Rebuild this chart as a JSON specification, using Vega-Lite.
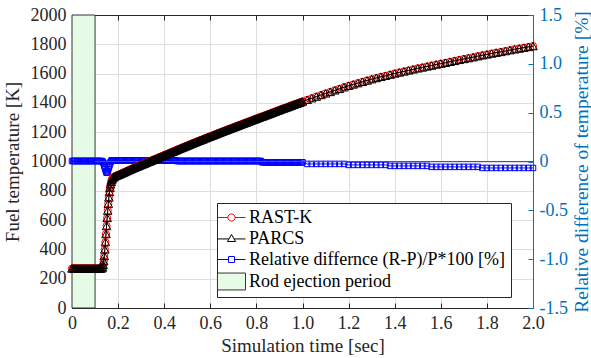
{
"$schema": "https://vega.github.io/schema/vega-lite/v6.json",
"width": 461, "height": 293,
"autosize": "none",
"padding": {"left": 72, "top": 15, "right": 58, "bottom": 50},
"background": "white",
"config": {
 "font": "Liberation Serif",
 "view": {"stroke": null},
 "style": {"guide-label": {"font": "Liberation Serif"}, "guide-title": {"font": "Liberation Serif"}},
 "axis": {"labelFont": "Liberation Serif", "titleFont": "Liberation Serif", "labelFontSize": 18, "titleFontSize": 19, "titleFontWeight": "normal", "labelColor": "#262626", "titleColor": "#262626", "domainColor": "#262626", "tickColor": "#262626", "tickSize": -5, "labelPadding": 11, "labelFlush": false, "labelOverlap": false, "gridColor": "#dedede", "domainWidth": 1, "tickWidth": 1, "gridWidth": 1}
},
"datasets": {
 "rod": [{"start": 0, "end": 0.1}],
 "zero": [{"a": 0, "b": 2, "c": 0.1}],
 "series": [{"series": "RAST-K"}, {"series": "PARCS"}, {"series": "Relative differnce (R-P)/P*100 [%]"}, {"series": "Rod ejection period"}],
 "main": [
{"t":0,"R":270,"P":270,"D":0.005},{"t":0.005,"R":270,"P":270,"D":0.005},{"t":0.01,"R":270,"P":270,"D":0.005},{"t":0.015,"R":270,"P":270,"D":0.005},{"t":0.02,"R":270,"P":270,"D":0.005},{"t":0.025,"R":270,"P":270,"D":0.005},{"t":0.03,"R":270,"P":270,"D":0.005},{"t":0.035,"R":270,"P":270,"D":0.005},{"t":0.04,"R":270,"P":270,"D":0.005},{"t":0.045,"R":270,"P":270,"D":0.005},
{"t":0.05,"R":270,"P":270,"D":0.005},{"t":0.055,"R":270,"P":270,"D":0.005},{"t":0.06,"R":270,"P":270,"D":0.005},{"t":0.065,"R":270,"P":270,"D":0.005},{"t":0.07,"R":270,"P":270,"D":0.005},{"t":0.075,"R":270,"P":270,"D":0.005},{"t":0.08,"R":270,"P":270,"D":0.005},{"t":0.085,"R":270,"P":270,"D":0.005},{"t":0.09,"R":270,"P":270,"D":0.005},{"t":0.095,"R":270,"P":270,"D":0.005},
{"t":0.1,"R":270,"P":270,"D":0.005},{"t":0.105,"R":270,"P":270,"D":0.005},{"t":0.11,"R":270,"P":270,"D":0.005},{"t":0.115,"R":270,"P":270,"D":0.005},{"t":0.12,"R":270,"P":270,"D":0.005},{"t":0.125,"R":270,"P":270,"D":0.005},
{"t":0.13,"R":272,"P":272,"D":0.005},{"t":0.1325,"R":280,"P":280,"D":0},{"t":0.135,"R":295,"P":295,"D":-0.01},{"t":0.1375,"R":320,"P":320,"D":-0.02},{"t":0.14,"R":355,"P":355,"D":-0.04},{"t":0.1425,"R":400,"P":400,"D":-0.06},{"t":0.145,"R":450,"P":450,"D":-0.08},{"t":0.1475,"R":505,"P":505,"D":-0.1},{"t":0.15,"R":560,"P":560,"D":-0.115},{"t":0.1525,"R":615,"P":615,"D":-0.11},
{"t":0.155,"R":665,"P":665,"D":-0.1},{"t":0.1575,"R":712,"P":712,"D":-0.08},{"t":0.16,"R":755,"P":755,"D":-0.06},{"t":0.1625,"R":792,"P":792,"D":-0.04},{"t":0.165,"R":822,"P":822,"D":-0.02},{"t":0.1675,"R":845,"P":845,"D":-0.005},{"t":0.17,"R":862,"P":862,"D":0.005},{"t":0.1725,"R":874,"P":874,"D":0.01},{"t":0.175,"R":883,"P":883,"D":0.012},{"t":0.1775,"R":889,"P":889,"D":0.012},
{"t":0.18,"R":894,"P":894,"D":0.012},{"t":0.185,"R":898,"P":898,"D":0.012},{"t":0.19,"R":902,"P":902,"D":0.012},{"t":0.195,"R":905,"P":905,"D":0.012},{"t":0.2,"R":908,"P":908,"D":0.012},
{"t":0.205,"R":912,"P":912,"D":0.012},{"t":0.21,"R":915,"P":915,"D":0.012},{"t":0.215,"R":919,"P":919,"D":0.012},{"t":0.22,"R":922,"P":922,"D":0.012},{"t":0.225,"R":926,"P":926,"D":0.012},{"t":0.23,"R":929,"P":929,"D":0.012},{"t":0.235,"R":933,"P":933,"D":0.012},{"t":0.24,"R":937,"P":937,"D":0.012},{"t":0.245,"R":940,"P":940,"D":0.012},{"t":0.25,"R":944,"P":944,"D":0.012},
{"t":0.255,"R":947,"P":947,"D":0.012},{"t":0.26,"R":951,"P":951,"D":0.012},{"t":0.265,"R":954,"P":954,"D":0.012},{"t":0.27,"R":957,"P":957,"D":0.012},{"t":0.275,"R":960,"P":960,"D":0.012},{"t":0.28,"R":964,"P":964,"D":0.012},{"t":0.285,"R":967,"P":967,"D":0.012},{"t":0.29,"R":970,"P":970,"D":0.012},{"t":0.295,"R":974,"P":974,"D":0.012},{"t":0.3,"R":977,"P":977,"D":0.012},
{"t":0.305,"R":980,"P":980,"D":0.012},{"t":0.31,"R":984,"P":984,"D":0.012},{"t":0.315,"R":987,"P":987,"D":0.012},{"t":0.32,"R":990,"P":990,"D":0.012},{"t":0.325,"R":994,"P":994,"D":0.012},{"t":0.33,"R":997,"P":997,"D":0.012},{"t":0.335,"R":1000,"P":1000,"D":0.012},{"t":0.34,"R":1003,"P":1003,"D":0.012},{"t":0.345,"R":1007,"P":1007,"D":0.012},{"t":0.35,"R":1010,"P":1010,"D":0.012},
{"t":0.355,"R":1013,"P":1013,"D":0.012},{"t":0.36,"R":1017,"P":1017,"D":0.012},{"t":0.365,"R":1020,"P":1020,"D":0.012},{"t":0.37,"R":1023,"P":1023,"D":0.012},{"t":0.375,"R":1027,"P":1027,"D":0.012},{"t":0.38,"R":1030,"P":1030,"D":0.012},{"t":0.385,"R":1033,"P":1033,"D":0.012},{"t":0.39,"R":1036,"P":1036,"D":0.012},{"t":0.395,"R":1040,"P":1040,"D":0.012},{"t":0.4,"R":1043,"P":1043,"D":0.012},
{"t":0.405,"R":1046,"P":1046,"D":0.012},{"t":0.41,"R":1050,"P":1050,"D":0.012},{"t":0.415,"R":1053,"P":1053,"D":0.012},{"t":0.42,"R":1056,"P":1056,"D":0.012},{"t":0.425,"R":1060,"P":1060,"D":0.012},{"t":0.43,"R":1063,"P":1063,"D":0.012},{"t":0.435,"R":1066,"P":1066,"D":0.012},{"t":0.44,"R":1069,"P":1069,"D":0.012},{"t":0.445,"R":1073,"P":1073,"D":0.012},{"t":0.45,"R":1076,"P":1076,"D":0.012},
{"t":0.455,"R":1079,"P":1079,"D":0.005},{"t":0.46,"R":1083,"P":1083,"D":0.005},{"t":0.465,"R":1086,"P":1086,"D":0.005},{"t":0.47,"R":1089,"P":1089,"D":0.005},{"t":0.475,"R":1093,"P":1093,"D":0.005},{"t":0.48,"R":1096,"P":1096,"D":0.005},{"t":0.485,"R":1099,"P":1099,"D":0.005},{"t":0.49,"R":1102,"P":1102,"D":0.005},{"t":0.495,"R":1106,"P":1106,"D":0.005},{"t":0.5,"R":1109,"P":1109,"D":0.005},
{"t":0.505,"R":1112,"P":1112,"D":0.005},{"t":0.51,"R":1115,"P":1115,"D":0.005},{"t":0.515,"R":1119,"P":1119,"D":0.005},{"t":0.52,"R":1122,"P":1122,"D":0.005},{"t":0.525,"R":1125,"P":1125,"D":0.005},{"t":0.53,"R":1128,"P":1128,"D":0.005},{"t":0.535,"R":1131,"P":1131,"D":0.005},{"t":0.54,"R":1135,"P":1135,"D":0.005},{"t":0.545,"R":1138,"P":1138,"D":0.005},{"t":0.55,"R":1141,"P":1141,"D":0.005},
{"t":0.555,"R":1144,"P":1144,"D":0.005},{"t":0.56,"R":1147,"P":1147,"D":0.005},{"t":0.565,"R":1150,"P":1150,"D":0.005},{"t":0.57,"R":1153,"P":1153,"D":0.005},{"t":0.575,"R":1157,"P":1157,"D":0.005},{"t":0.58,"R":1160,"P":1160,"D":0.005},{"t":0.585,"R":1163,"P":1163,"D":0.005},{"t":0.59,"R":1166,"P":1166,"D":0.005},{"t":0.595,"R":1169,"P":1169,"D":0.005},{"t":0.6,"R":1172,"P":1172,"D":0.005},
{"t":0.605,"R":1175,"P":1175,"D":0.005},{"t":0.61,"R":1178,"P":1178,"D":0.005},{"t":0.615,"R":1181,"P":1181,"D":0.005},{"t":0.62,"R":1184,"P":1184,"D":0.005},{"t":0.625,"R":1188,"P":1188,"D":0.005},{"t":0.63,"R":1191,"P":1191,"D":0.005},{"t":0.635,"R":1194,"P":1194,"D":0.005},{"t":0.64,"R":1197,"P":1197,"D":0.005},{"t":0.645,"R":1200,"P":1200,"D":0.005},{"t":0.65,"R":1203,"P":1203,"D":0.005},
{"t":0.655,"R":1206,"P":1206,"D":0.005},{"t":0.66,"R":1209,"P":1209,"D":0.005},{"t":0.665,"R":1212,"P":1212,"D":0.005},{"t":0.67,"R":1215,"P":1215,"D":0.005},{"t":0.675,"R":1218,"P":1218,"D":0.005},{"t":0.68,"R":1221,"P":1221,"D":0.005},{"t":0.685,"R":1224,"P":1224,"D":0.005},{"t":0.69,"R":1227,"P":1227,"D":0.005},{"t":0.695,"R":1230,"P":1230,"D":0.005},{"t":0.7,"R":1233,"P":1233,"D":0.005},
{"t":0.705,"R":1236,"P":1236,"D":0.005},{"t":0.71,"R":1239,"P":1239,"D":0.005},{"t":0.715,"R":1242,"P":1242,"D":0.005},{"t":0.72,"R":1245,"P":1245,"D":0.005},{"t":0.725,"R":1248,"P":1248,"D":0.005},{"t":0.73,"R":1251,"P":1251,"D":0.005},{"t":0.735,"R":1254,"P":1254,"D":0.005},{"t":0.74,"R":1257,"P":1257,"D":0.005},{"t":0.745,"R":1260,"P":1260,"D":0.005},{"t":0.75,"R":1263,"P":1263,"D":0.005},
{"t":0.755,"R":1266,"P":1266,"D":0.005},{"t":0.76,"R":1269,"P":1269,"D":0.005},{"t":0.765,"R":1272,"P":1272,"D":0.005},{"t":0.77,"R":1275,"P":1275,"D":0.005},{"t":0.775,"R":1278,"P":1278,"D":0.005},{"t":0.78,"R":1281,"P":1281,"D":0.005},{"t":0.785,"R":1284,"P":1284,"D":0.005},{"t":0.79,"R":1287,"P":1287,"D":0.005},{"t":0.795,"R":1290,"P":1290,"D":0.005},{"t":0.8,"R":1293,"P":1293,"D":0.005},
{"t":0.805,"R":1296,"P":1296,"D":0.005},{"t":0.81,"R":1299,"P":1299,"D":0.005},{"t":0.815,"R":1302,"P":1302,"D":0.005},{"t":0.82,"R":1305,"P":1305,"D":0.005},{"t":0.825,"R":1307,"P":1307,"D":-0.008},{"t":0.83,"R":1310,"P":1310,"D":-0.008},{"t":0.835,"R":1313,"P":1313,"D":-0.008},{"t":0.84,"R":1316,"P":1316,"D":-0.008},{"t":0.845,"R":1319,"P":1319,"D":-0.008},{"t":0.85,"R":1322,"P":1322,"D":-0.008},
{"t":0.855,"R":1325,"P":1325,"D":-0.008},{"t":0.86,"R":1328,"P":1328,"D":-0.008},{"t":0.865,"R":1331,"P":1331,"D":-0.008},{"t":0.87,"R":1334,"P":1334,"D":-0.008},{"t":0.875,"R":1337,"P":1337,"D":-0.008},{"t":0.88,"R":1340,"P":1340,"D":-0.008},{"t":0.885,"R":1343,"P":1343,"D":-0.008},{"t":0.89,"R":1346,"P":1346,"D":-0.008},{"t":0.895,"R":1349,"P":1349,"D":-0.008},{"t":0.9,"R":1352,"P":1352,"D":-0.008},
{"t":0.905,"R":1355,"P":1355,"D":-0.008},{"t":0.91,"R":1358,"P":1358,"D":-0.008},{"t":0.915,"R":1361,"P":1361,"D":-0.008},{"t":0.92,"R":1364,"P":1364,"D":-0.008},{"t":0.925,"R":1366,"P":1366,"D":-0.008},{"t":0.93,"R":1369,"P":1369,"D":-0.008},{"t":0.935,"R":1372,"P":1372,"D":-0.008},{"t":0.94,"R":1375,"P":1375,"D":-0.008},{"t":0.945,"R":1378,"P":1378,"D":-0.008},{"t":0.95,"R":1381,"P":1381,"D":-0.008},
{"t":0.955,"R":1384,"P":1384,"D":-0.008},{"t":0.96,"R":1387,"P":1387,"D":-0.008},{"t":0.965,"R":1390,"P":1390,"D":-0.008},{"t":0.97,"R":1393,"P":1393,"D":-0.008},{"t":0.975,"R":1395,"P":1395,"D":-0.008},{"t":0.98,"R":1398,"P":1398,"D":-0.008},{"t":0.985,"R":1401,"P":1401,"D":-0.008},{"t":0.99,"R":1404,"P":1404,"D":-0.008},{"t":0.995,"R":1407,"P":1407,"D":-0.008},{"t":1.0,"R":1410,"P":1410,"D":-0.008},
{"t":1.02,"R":1421,"P":1421,"D":-0.025},{"t":1.04,"R":1432,"P":1432,"D":-0.025},{"t":1.06,"R":1443,"P":1443,"D":-0.025},{"t":1.08,"R":1454,"P":1454,"D":-0.025},{"t":1.1,"R":1465,"P":1465,"D":-0.025},{"t":1.12,"R":1475,"P":1475,"D":-0.025},{"t":1.14,"R":1486,"P":1486,"D":-0.025},{"t":1.16,"R":1496,"P":1496,"D":-0.025},{"t":1.18,"R":1507,"P":1507,"D":-0.025},{"t":1.2,"R":1517,"P":1517,"D":-0.035},
{"t":1.22,"R":1526,"P":1526,"D":-0.035},{"t":1.24,"R":1535,"P":1535,"D":-0.035},{"t":1.26,"R":1544,"P":1544,"D":-0.035},{"t":1.28,"R":1553,"P":1553,"D":-0.035},{"t":1.3,"R":1562,"P":1562,"D":-0.035},{"t":1.32,"R":1570,"P":1570,"D":-0.035},{"t":1.34,"R":1578,"P":1578,"D":-0.035},{"t":1.36,"R":1585,"P":1585,"D":-0.035},{"t":1.38,"R":1593,"P":1593,"D":-0.045},{"t":1.4,"R":1601,"P":1601,"D":-0.045},
{"t":1.42,"R":1608,"P":1608,"D":-0.045},{"t":1.44,"R":1615,"P":1615,"D":-0.045},{"t":1.46,"R":1622,"P":1622,"D":-0.045},{"t":1.48,"R":1629,"P":1629,"D":-0.045},{"t":1.5,"R":1636,"P":1636,"D":-0.045},{"t":1.52,"R":1642,"P":1642,"D":-0.045},{"t":1.54,"R":1649,"P":1649,"D":-0.045},{"t":1.56,"R":1655,"P":1655,"D":-0.055},{"t":1.58,"R":1662,"P":1662,"D":-0.055},{"t":1.6,"R":1668,"P":1668,"D":-0.055},
{"t":1.62,"R":1674,"P":1674,"D":-0.055},{"t":1.64,"R":1681,"P":1681,"D":-0.055},{"t":1.66,"R":1687,"P":1687,"D":-0.055},{"t":1.68,"R":1694,"P":1694,"D":-0.055},{"t":1.7,"R":1700,"P":1700,"D":-0.055},{"t":1.72,"R":1706,"P":1706,"D":-0.055},{"t":1.74,"R":1712,"P":1712,"D":-0.055},{"t":1.76,"R":1719,"P":1719,"D":-0.055},{"t":1.78,"R":1725,"P":1725,"D":-0.066},{"t":1.8,"R":1731,"P":1731,"D":-0.066},
{"t":1.82,"R":1737,"P":1737,"D":-0.066},{"t":1.84,"R":1743,"P":1743,"D":-0.066},{"t":1.86,"R":1748,"P":1748,"D":-0.066},{"t":1.88,"R":1754,"P":1754,"D":-0.066},{"t":1.9,"R":1760,"P":1760,"D":-0.066},{"t":1.92,"R":1766,"P":1766,"D":-0.066},{"t":1.94,"R":1771,"P":1771,"D":-0.066},{"t":1.96,"R":1777,"P":1777,"D":-0.066},{"t":1.98,"R":1782,"P":1782,"D":-0.066},{"t":2.0,"R":1788,"P":1788,"D":-0.066}
 ]
},
"layer": [
 {
  "data": {"name": "rod"},
  "mark": {"type": "rect", "fill": "#e6fbe6", "stroke": "#333333", "strokeWidth": 1},
  "encoding": {
   "x": {"field": "start", "type": "quantitative", "scale": {"domain": [0, 2], "nice": false, "zero": false}, "axis": null},
   "x2": {"field": "end"}
  }
 },
 {
  "data": {"name": "main"},
  "mark": {"type": "line", "stroke": "#0000ff", "strokeWidth": 1},
  "encoding": {
   "x": {"field": "t", "type": "quantitative", "scale": {"domain": [0, 2], "nice": false, "zero": false}, "axis": null},
   "y": {"field": "D", "type": "quantitative", "scale": {"domain": [-1.5, 1.5], "nice": false, "zero": false}, "axis": null}
  }
 },
 {
  "data": {"name": "main"},
  "mark": {"type": "point", "shape": "square", "size": 30, "filled": false, "stroke": "#0000ff", "strokeWidth": 1, "opacity": 1},
  "encoding": {
   "x": {"field": "t", "type": "quantitative", "scale": {"domain": [0, 2], "nice": false, "zero": false}, "axis": null},
   "y": {"field": "D", "type": "quantitative", "scale": {"domain": [-1.5, 1.5], "nice": false, "zero": false},
    "axis": {"orient": "right", "values": [-1.5, -1, -0.5, 0, 0.5, 1, 1.5], "labelExpr": "datum.value == 0 ? '0' : (datum.value < 0 ? '-' : '') + format(abs(datum.value), '.1f')", "grid": false, "labelFont": "Liberation Serif", "titleFont": "Liberation Serif", "labelFontSize": 18, "titleFontSize": 19.5, "domainColor": "#0072BD", "tickColor": "#0072BD", "labelColor": "#0072BD", "titleColor": "#0072BD", "title": "Relative difference of temperature [%]", "titleAngle": 270, "titleBaseline": "top", "titlePadding": 5}}
  }
 },
 {
  "data": {"name": "zero"},
  "mark": {"type": "rule", "stroke": "#0072BD", "strokeWidth": 1},
  "encoding": {
   "x": {"field": "a", "type": "quantitative", "scale": {"domain": [0, 2], "nice": false, "zero": false}, "axis": null},
   "x2": {"field": "b"},
   "y": {"datum": 0, "type": "quantitative", "scale": {"domain": [-1.5, 1.5], "nice": false, "zero": false}, "axis": null}
  }
 },
 {
  "data": {"name": "zero"},
  "mark": {"type": "rule", "stroke": "#1a1a1a", "strokeWidth": 1},
  "encoding": {
   "x": {"field": "a", "type": "quantitative", "scale": {"domain": [0, 2], "nice": false, "zero": false}, "axis": null},
   "x2": {"field": "c"},
   "y": {"datum": 0, "type": "quantitative", "scale": {"domain": [-1.5, 1.5], "nice": false, "zero": false}, "axis": null}
  }
 },
 {
  "data": {"name": "main"},
  "mark": {"type": "line", "stroke": "#ff0000", "strokeWidth": 1},
  "encoding": {
   "x": {"field": "t", "type": "quantitative", "scale": {"domain": [0, 2], "nice": false, "zero": false}, "axis": null},
   "y": {"field": "R", "type": "quantitative", "scale": {"domain": [0, 2000], "nice": false, "zero": false}, "axis": null}
  }
 },
 {
  "data": {"name": "main"},
  "mark": {"type": "point", "shape": "circle", "size": 52, "filled": false, "stroke": "#ff0000", "strokeWidth": 1, "opacity": 1},
  "encoding": {
   "x": {"field": "t", "type": "quantitative", "scale": {"domain": [0, 2], "nice": false, "zero": false},
    "axis": {"orient": "bottom", "values": [0, 0.2, 0.4, 0.6, 0.8, 1, 1.2, 1.4, 1.6, 1.8, 2], "labelExpr": "datum.value == 0 ? '0' : format(datum.value, '.1f')", "labelFont": "Liberation Serif", "titleFont": "Liberation Serif", "labelFontSize": 18, "titleFontSize": 19, "grid": true, "title": "Simulation time [sec]", "titlePadding": 4}},
   "y": {"field": "R", "type": "quantitative", "scale": {"domain": [0, 2000], "nice": false, "zero": false},
    "axis": {"orient": "left", "values": [0, 200, 400, 600, 800, 1000, 1200, 1400, 1600, 1800, 2000], "format": "d", "labelFont": "Liberation Serif", "titleFont": "Liberation Serif", "labelFontSize": 18, "titleFontSize": 19, "grid": true, "title": "Fuel temperature [K]", "titlePadding": 8}}
  }
 },
 {
  "data": {"name": "main"},
  "mark": {"type": "line", "stroke": "#000000", "strokeWidth": 1},
  "encoding": {
   "x": {"field": "t", "type": "quantitative", "scale": {"domain": [0, 2], "nice": false, "zero": false},
    "axis": {"orient": "top", "values": [0, 0.2, 0.4, 0.6, 0.8, 1, 1.2, 1.4, 1.6, 1.8, 2], "labels": false, "grid": false, "title": null}},
   "y": {"field": "P", "type": "quantitative", "scale": {"domain": [0, 2000], "nice": false, "zero": false}, "axis": null}
  }
 },
 {
  "data": {"name": "main"},
  "mark": {"type": "point", "shape": "triangle-up", "size": 74, "filled": false, "stroke": "#000000", "strokeWidth": 1, "opacity": 1},
  "encoding": {
   "x": {"field": "t", "type": "quantitative", "scale": {"domain": [0, 2], "nice": false, "zero": false}, "axis": null},
   "y": {"field": "P", "type": "quantitative", "scale": {"domain": [0, 2000], "nice": false, "zero": false}, "axis": null}
  }
 },
 {
  "data": {"name": "series"},
  "transform": [{"filter": "datum.series == 'none'"}],
  "mark": {"type": "point", "opacity": 1},
  "encoding": {
   "stroke": {"field": "series", "type": "nominal",
    "scale": {"domain": ["RAST-K", "PARCS", "Relative differnce (R-P)/P*100 [%]", "Rod ejection period"], "range": ["#ff0000", "#000000", "#0000ff", "#333333"]},
    "legend": {"title": null, "orient": "none", "legendX": 145, "legendY": 188, "labelFont": "Liberation Serif", "labelFontSize": 18, "labelColor": "#000000", "symbolSize": 324, "symbolStrokeWidth": 1, "symbolOpacity": 1, "strokeColor": "#262626", "fillColor": "#ffffff", "padding": 5, "rowPadding": 2, "labelOffset": 8, "labelLimit": 500}},
   "fill": {"field": "series", "type": "nominal",
    "scale": {"domain": ["RAST-K", "PARCS", "Relative differnce (R-P)/P*100 [%]", "Rod ejection period"], "range": ["transparent", "transparent", "transparent", "#e6fbe6"]},
    "legend": {"title": null, "orient": "none", "legendX": 145, "legendY": 188, "labelFont": "Liberation Serif", "labelFontSize": 18, "labelColor": "#000000", "symbolSize": 324, "symbolStrokeWidth": 1, "symbolOpacity": 1, "strokeColor": "#262626", "fillColor": "#ffffff", "padding": 5, "rowPadding": 2, "labelOffset": 8, "labelLimit": 500}},
   "shape": {"field": "series", "type": "nominal",
    "scale": {"domain": ["RAST-K", "PARCS", "Relative differnce (R-P)/P*100 [%]", "Rod ejection period"], "range": ["M-1.56,0H-0.4M0.4,0H1.56M0.4,0A0.4,0.4,0,1,1,-0.4,0A0.4,0.4,0,1,1,0.4,0", "M-1.56,0.05H-0.29M0.29,0.05H1.56M0,-0.45L0.45,0.33L-0.45,0.33Z", "M-1.56,0H-0.33M0.33,0H1.56M-0.33,-0.33H0.33V0.33H-0.33Z", "M-1.56,-0.94H1.56V0.94H-1.56Z"]},
    "legend": {"title": null, "orient": "none", "legendX": 145, "legendY": 188, "labelFont": "Liberation Serif", "labelFontSize": 18, "labelColor": "#000000", "symbolSize": 324, "symbolStrokeWidth": 1, "symbolOpacity": 1, "strokeColor": "#262626", "fillColor": "#ffffff", "padding": 5, "rowPadding": 2, "labelOffset": 8, "labelLimit": 500}}
  }
 }
],
"resolve": {"scale": {"y": "independent"}, "axis": {"x": "independent", "y": "independent"}}
}
